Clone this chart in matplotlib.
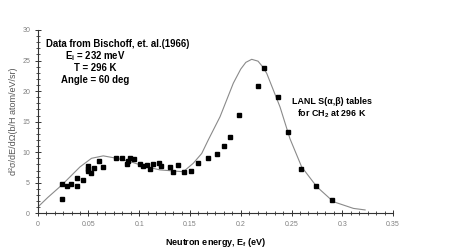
import matplotlib.pyplot as plt
from matplotlib.ticker import MultipleLocator

# measured data (Bischoff et al. 1966)
exp_e = [0.0242, 0.0242, 0.0286, 0.0328, 0.039, 0.039, 0.0449, 0.0499, 0.0499,
         0.0499, 0.0522, 0.0558, 0.0607, 0.064, 0.0771, 0.083, 0.0877, 0.0893,
         0.0909, 0.0949, 0.1008, 0.1034, 0.1073, 0.1106, 0.1139, 0.1198, 0.1215,
         0.1303, 0.1336, 0.1385, 0.1441, 0.1507, 0.1576, 0.1675, 0.177, 0.1835,
         0.189, 0.1983, 0.2173, 0.2233, 0.2364, 0.247, 0.2594, 0.2739, 0.2897]
exp_xs = [4.75, 2.3, 4.45, 4.8, 5.7, 4.5, 5.4, 7.7, 7.3,
          7.0, 6.65, 7.45, 8.6, 7.5, 9.1, 9.0, 8.0, 8.6,
          9.0, 8.9, 8.0, 7.8, 7.9, 7.25, 8.0, 8.3, 7.8,
          7.6, 6.8, 7.85, 6.7, 6.9, 8.3, 9.1, 9.7, 11.0,
          12.5, 16.1, 20.8, 23.7, 19.0, 13.25, 7.25, 4.47, 2.1]

# LANL S(a,b) calculation
calc_e = [0.0, 0.01, 0.0236, 0.0417, 0.053, 0.0646, 0.0778, 0.091, 0.1074,
          0.1205, 0.1434, 0.1533, 0.1616, 0.168, 0.1796, 0.1927, 0.2, 0.205,
          0.2108, 0.217, 0.221, 0.2256, 0.2387, 0.2485, 0.26, 0.2749, 0.2912,
          0.311, 0.3225]
calc_xs = [1.0, 2.6, 4.6, 7.6, 9.0, 9.4, 9.0, 8.45, 7.6,
           7.1, 6.8, 8.2, 9.8, 12.0, 15.8, 21.3, 23.6, 24.7,
           25.2, 24.9, 24.1, 22.9, 17.4, 12.2, 7.6, 4.35, 1.9,
           0.8, 0.55]

xticks = [0, 0.05, 0.1, 0.15, 0.2, 0.25, 0.3, 0.35]
xticklabels = ['0', '0.05', '0.1', '0.15', '0.2', '0.25', '0.3', '0.35']

plt.rcParams['font.family'] = 'Liberation Sans'
plt.rcParams['mathtext.fontset'] = 'custom'
plt.rcParams['mathtext.rm'] = 'Liberation Sans:bold'
plt.rcParams['mathtext.it'] = 'Liberation Sans:bold'

fig = plt.figure(figsize=(4.57, 2.52), dpi=100)
ax = fig.add_axes([0.0825, 0.1536, 0.7775, 0.7274])

ax.plot(calc_e, calc_xs, color='#8a8a8a', lw=0.8)
ax.plot(exp_e, exp_xs, 's', color='black', ms=3)

ax.set_xlim(0, 0.35)
ax.set_ylim(0, 30)
ax.set_xticks(xticks)
ax.set_xticklabels(xticklabels)
ax.xaxis.set_minor_locator(MultipleLocator(0.05 / 6))
ax.yaxis.set_major_locator(MultipleLocator(5))
ax.yaxis.set_minor_locator(MultipleLocator(1))
ax.tick_params(which='major', direction='inout', length=5, width=0.7,
               labelsize=5, labelcolor='#808080', color='#333333', pad=3)
ax.tick_params(which='minor', direction='inout', length=3, width=0.6, color='#333333')
for s in ['top', 'right']:
    ax.spines[s].set_visible(False)
for s in ['left', 'bottom']:
    ax.spines[s].set_linewidth(0.8)
    ax.spines[s].set_color('#333333')

ax.set_xlabel('Neutron energy, E$_f$ (eV)', fontsize=6.5, fontweight='bold', labelpad=6)
ax.set_ylabel('d²σ/dE/dΩ(b/H atom/eV/sr)', fontsize=6.5, color='#555555', labelpad=3)

ax.text(0.008, 27.7, 'Data from Bischoff, et. al.(1966)', fontsize=6.9, fontweight='bold',
        ha='left', va='center')
ax.text(0.057, 25.8, 'E$_i$ = 232 meV', fontsize=6.9, fontweight='bold', ha='center', va='center')
ax.text(0.057, 23.7, 'T = 296 K', fontsize=6.9, fontweight='bold', ha='center', va='center')
ax.text(0.057, 21.8, 'Angle = 60 deg', fontsize=6.9, fontweight='bold', ha='center', va='center')
ax.text(0.290, 18.3, 'LANL S(α,β) tables', fontsize=6.4, fontweight='bold',
        ha='center', va='center')
ax.text(0.290, 16.3, 'for CH$_2$ at 296 K', fontsize=6.4, fontweight='bold',
        ha='center', va='center')

plt.savefig('out.png', dpi=100)
